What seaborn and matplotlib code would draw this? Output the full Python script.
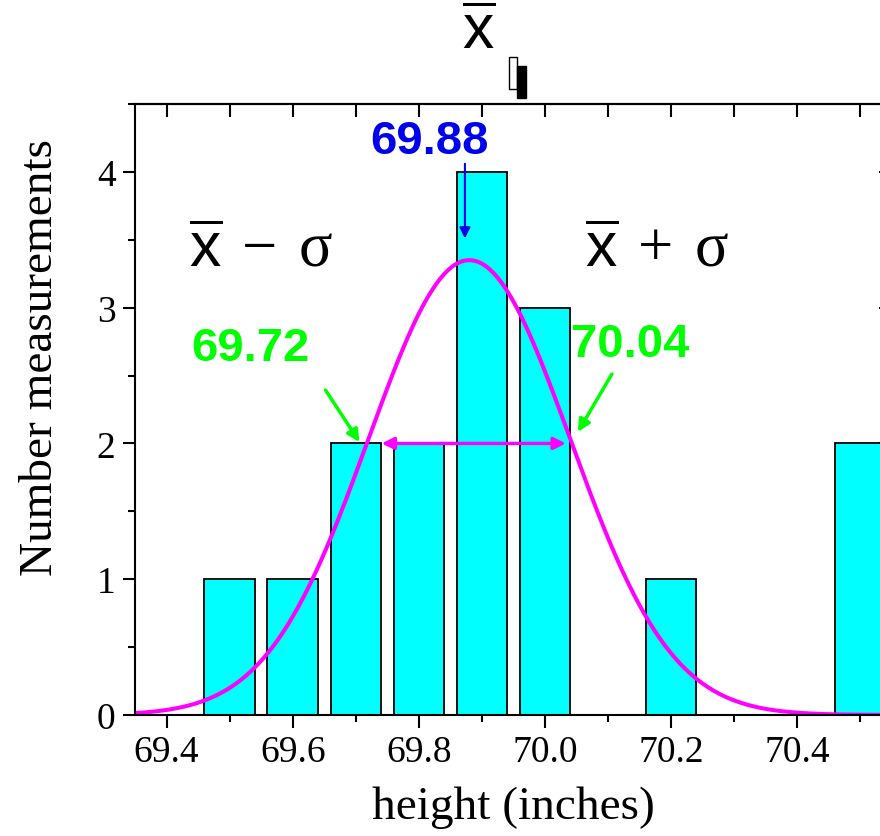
import numpy as np
import pandas as pd
import matplotlib
matplotlib.use("Agg")
import matplotlib.pyplot as plt
import seaborn as sns
from matplotlib.ticker import MultipleLocator, FormatStrFormatter, NullFormatter
from matplotlib.patches import Rectangle

# -------------------------------
# DATA
# -------------------------------

heights = [69.5, 69.6, 69.7, 69.8, 69.9, 70.0, 70.2, 70.5]
counts = [1, 1, 2, 2, 4, 3, 1, 2]

# gaussian fit
fit_mean = 69.88
fit_sigma = 0.16
fit_peak = 3.35

mean_label = "69.88"
low_label = "69.72"
high_label = "70.04"

# -------------------------------
# STYLE
# -------------------------------

sns.set_style("ticks")
plt.rcParams["font.family"] = ["Liberation Serif", "DejaVu Serif"]
plt.rcParams["mathtext.fontset"] = "custom"
plt.rcParams["mathtext.sf"] = "Liberation Sans"
plt.rcParams["mathtext.rm"] = "Liberation Serif"
plt.rcParams["mathtext.it"] = "Liberation Serif:italic"
for key in ["text.color", "axes.labelcolor", "xtick.color", "ytick.color",
            "axes.edgecolor"]:
    plt.rcParams[key] = "black"

fig = plt.figure(figsize=(8.8, 8.37), dpi=100)
ax = fig.add_axes([135 / 880, 121 / 837, 757 / 880, 611 / 837])

df = pd.DataFrame({"height": heights, "count": counts})

sns.histplot(
    data=df, x="height", weights="count",
    binwidth=0.1, binrange=(69.45, 70.55), shrink=0.8,
    color="#00FFFF", edgecolor="black", linewidth=1.3, alpha=1,
    ax=ax
)

curve_x = np.linspace(69.35, 70.55, 400)
curve_y = fit_peak * np.exp(-0.5 * ((curve_x - fit_mean) / fit_sigma) ** 2)

sns.lineplot(x=curve_x, y=curve_y, color="#FF00FF", linewidth=2.9, ax=ax)

# -------------------------------
# AXES
# -------------------------------

ax.set_xlim(69.35, 70.55)
ax.set_ylim(0, 4.5)

ax.xaxis.set_major_locator(MultipleLocator(0.2))
ax.xaxis.set_minor_locator(MultipleLocator(0.1))
ax.xaxis.set_major_formatter(FormatStrFormatter("%.1f"))
ax.yaxis.set_major_locator(MultipleLocator(1))
ax.yaxis.set_minor_locator(MultipleLocator(0.5))

ax.tick_params(which="major", direction="out", length=9, width=1.5,
               labelsize=27, pad=5)
ax.tick_params(which="minor", direction="out", length=5, width=1.5)

for s in ax.spines.values():
    s.set_linewidth(1.5)
    s.set_visible(True)

top = ax.secondary_xaxis("top")
top.xaxis.set_major_locator(MultipleLocator(0.1))
top.xaxis.set_major_formatter(NullFormatter())
top.tick_params(direction="in", length=9.5, width=1.5)
top.spines["top"].set_linewidth(1.5)

right = ax.secondary_yaxis("right")
right.yaxis.set_major_locator(MultipleLocator(1))
right.yaxis.set_major_formatter(NullFormatter())
right.tick_params(direction="in", length=9.5, width=1.5)
right.spines["right"].set_linewidth(1.5)

ax.set_xlabel("height (inches)", fontsize=34)
ax.set_ylabel("Number measurements", fontsize=34)
ax.xaxis.set_label_coords(0.5, -0.115)
ax.yaxis.set_label_coords(-0.097, 0.587)

# -------------------------------
# ANNOTATIONS
# -------------------------------

ax.annotate("", xy=(69.873, 3.51), xytext=(69.873, 4.06),
            arrowprops=dict(arrowstyle="-|>", color="#0000EE", lw=1.5,
                            mutation_scale=16, shrinkA=0, shrinkB=0))
ax.text(69.817, 4.23, mean_label, color="#0000EE", fontsize=34,
        fontweight="bold", family="Liberation Sans", ha="center", va="center")

ax.annotate("", xy=(69.706, 2.01), xytext=(69.652, 2.393),
            arrowprops=dict(arrowstyle="-|>", color="#00FF00", lw=2.5,
                            mutation_scale=18, shrinkA=0, shrinkB=0))
ax.text(69.533, 2.70, low_label, color="#00FF00", fontsize=34,
        fontweight="bold", family="Liberation Sans", ha="center", va="center")

ax.annotate("", xy=(70.052, 2.084), xytext=(70.106, 2.511),
            arrowprops=dict(arrowstyle="-|>", color="#00FF00", lw=2.5,
                            mutation_scale=18, shrinkA=0, shrinkB=0))
ax.text(70.135, 2.735, high_label, color="#00FF00", fontsize=34,
        fontweight="bold", family="Liberation Sans", ha="center", va="center")

ax.annotate("", xy=(69.741, 2.0), xytext=(70.033, 2.0),
            arrowprops=dict(arrowstyle="<|-|>", color="#FF00FF", lw=2.4,
                            mutation_scale=18, shrinkA=0, shrinkB=0))

ax.text(69.55, 3.42, r"$\overline{\mathsf{x}}\;-\;\mathrm{\sigma}$",
        fontsize=45, ha="center", va="center")
ax.text(70.178, 3.42, r"$\overline{\mathsf{x}}\;+\;\mathrm{\sigma}$",
        fontsize=45, ha="center", va="center")

fig.text(479 / 880, 1 - 35 / 837, r"$\overline{\mathsf{x}}$",
         fontsize=45, ha="center", va="center")
fig.patches.append(Rectangle((509 / 880, 1 - 90 / 837), 8 / 880, 32 / 837,
                             transform=fig.transFigure, facecolor="white",
                             edgecolor="black", lw=1))
fig.patches.append(Rectangle((517 / 880, 1 - 99 / 837), 9 / 880, 32 / 837,
                             transform=fig.transFigure, facecolor="black",
                             edgecolor="black", lw=1))

fig.savefig("out.png", dpi=100)
